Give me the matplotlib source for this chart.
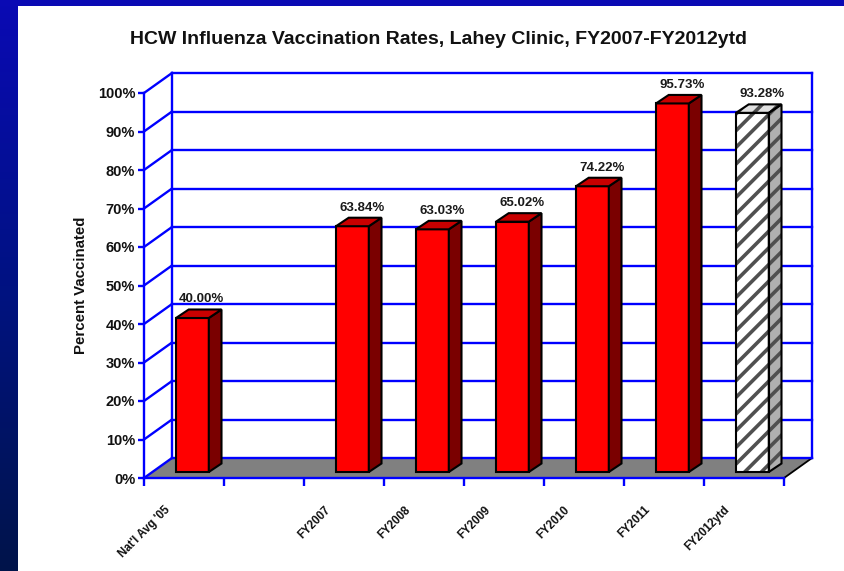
import matplotlib
matplotlib.use("Agg")
import matplotlib.pyplot as plt
import numpy as np
from matplotlib.patches import Polygon, Rectangle
from matplotlib.transforms import Affine2D, IdentityTransform
from matplotlib.colors import LinearSegmentedColormap

plt.rcParams['font.family'] = ['Liberation Sans', 'DejaVu Sans']
plt.rcParams['hatch.linewidth'] = 2.6

# ---- data ----
categories = ["Nat'l Avg '05", "", "FY2007", "FY2008", "FY2009", "FY2010", "FY2011", "FY2012ytd"]
values = [40.00, None, 63.84, 63.03, 65.02, 74.22, 95.73, 93.28]
labels = ["40.00%", "", "63.84%", "63.03%", "65.02%", "74.22%", "95.73%", "93.28%"]
hatched = [False, False, False, False, False, False, False, True]
yticks = list(range(0, 101, 10))
title = "HCW Influenza Vaccination Rates, Lahey Clinic, FY2007-FY2012ytd"
ylabel = "Percent Vaccinated"

W, H = 844, 571
fig = plt.figure(figsize=(W / 100, H / 100), dpi=100)
fig.patch.set_facecolor("white")

# slide frame (blue)
bg = fig.add_axes([0, 0, 18 / W, 1])
grad = np.linspace(0, 1, 256).reshape(-1, 1)
cm = LinearSegmentedColormap.from_list("f", ["#0A0AB4", "#001282", "#00144A"])
bg.imshow(grad, aspect="auto", cmap=cm, extent=[0, 1, 0, 1], origin="upper")
bg.axis("off")
fig.patches.append(Rectangle((0, 1 - 6 / H), 1, 6 / H, transform=fig.transFigure,
                             facecolor="#0A0AB4", edgecolor="none", zorder=5))

# plot axes = front plane
x0, x1, y0, y1 = 144, 784, 478, 93
ax = fig.add_axes([x0 / W, (H - y0) / H, (x1 - x0) / W, (y0 - y1) / H])
n = len(categories)
ax.set_xlim(0, n)
ax.set_ylim(0, 100)
ax.patch.set_alpha(0)

def off(dx, dy):
    return ax.transData + Affine2D().translate(dx, -dy)

BX, BY = 28, -20          # back wall offset (px)
F1X, F1Y = 8.4, -6        # bar front plane
DX, DY = 12.7, -8.5       # bar depth
blue = "#0000FF"
lw = 1.7
Tb = off(BX, BY)
ID = IdentityTransform()

def addpoly(p, **kw):
    ax.add_patch(Polygon(p, closed=True, transform=ID, clip_on=False, **kw))

def addline(a, b, **kw):
    ax.add_line(plt.Line2D([a[0], b[0]], [a[1], b[1]], transform=ID, clip_on=False, **kw))

# floor
fpts = [ax.transData.transform((0, 0)), ax.transData.transform((n, 0)),
        Tb.transform((n, 0)), Tb.transform((0, 0))]
addpoly(fpts, facecolor="#808080", edgecolor="none", zorder=1)
addline(ax.transData.transform((n, 0)), Tb.transform((n, 0)), color="black", lw=1.3, zorder=2)

# gridlines: diagonal on left wall + horizontal on back wall
for t in yticks:
    addline(ax.transData.transform((0, t)), Tb.transform((0, t)), color=blue, lw=lw, zorder=3)
    ax.plot([0, n], [t, t], color=blue, lw=lw, transform=Tb, clip_on=False, zorder=3)
ax.plot([0, 0], [0, 100], color=blue, lw=lw, transform=Tb, clip_on=False, zorder=3)
ax.plot([n, n], [0, 100], color=blue, lw=lw, transform=Tb, clip_on=False, zorder=3)

# bars
bw = 0.41
Tf = off(F1X, F1Y)
Tk = off(F1X + DX, F1Y + DY)
def pts(T, xy):
    return [T.transform(p) for p in xy]

for i, v in enumerate(values):
    if v is None:
        continue
    xl = i + 0.5 - bw / 2
    xr = i + 0.5 + bw / 2
    side = pts(Tf, [(xr, 0), (xr, v)]) + pts(Tk, [(xr, v), (xr, 0)])
    top = pts(Tf, [(xl, v), (xr, v)]) + pts(Tk, [(xr, v), (xl, v)])
    if hatched[i]:
        ax.bar(i + 0.5, v, bw, transform=Tf, facecolor="white", edgecolor="#505050",
               hatch="//", linewidth=0, clip_on=False, zorder=6)
        ax.bar(i + 0.5, v, bw, transform=Tf, facecolor="none", edgecolor="black",
               linewidth=1.5, clip_on=False, zorder=7)
        for poly, fc in ((side, "#B0B0B0"), (top, "#E0E0E0")):
            addpoly(poly, facecolor=fc, edgecolor="#505050", hatch="//", linewidth=0, zorder=6)
            addpoly(poly, facecolor="none", edgecolor="black", linewidth=1.5, zorder=7)
    else:
        ax.bar(i + 0.5, v, bw, transform=Tf, facecolor="#FF0000", edgecolor="black",
               linewidth=1.5, clip_on=False, zorder=6)
        addpoly(side, facecolor="#7A0000", edgecolor="black", linewidth=1.5, zorder=6)
        addpoly(top, facecolor="#C80000", edgecolor="black", linewidth=1.5, zorder=6)
    ax.text(i + 0.5, v, labels[i], transform=off(F1X + DX / 2 + 3, F1Y + DY - 4),
            ha="center", va="bottom", fontsize=9.5, fontweight="bold", color="#1a1a1a",
            clip_on=False, zorder=8)

# axes spines / ticks
for s in ("top", "right"):
    ax.spines[s].set_visible(False)
for s in ("left", "bottom"):
    ax.spines[s].set_color(blue)
    ax.spines[s].set_linewidth(lw)
    ax.spines[s].set_zorder(4)
ax.set_yticks(yticks)
ax.set_yticklabels([f"{t}%" for t in yticks], fontsize=10.5, fontweight="bold", color="#111111")
ax.tick_params(axis="y", direction="out", length=4.3, width=lw, color=blue, pad=2)
ax.set_xticks(range(n + 1))
ax.set_xticklabels([])
ax.tick_params(axis="x", which="major", direction="out", length=5.8, width=lw, color=blue)
ax.set_xticks([i + 0.5 for i in range(n)], minor=True)
ax.set_xticklabels(categories, minor=True, rotation=45, ha="right",
                   rotation_mode="anchor", fontsize=8.3, fontweight="bold", color="#111111")
ax.tick_params(axis="x", which="minor", length=0, pad=18.5)
for lab in ax.get_xticklabels(minor=True):
    lab.set_transform(lab.get_transform() + Affine2D().translate(-20, 0))

ax.set_ylabel(ylabel, fontsize=10.8, fontweight="bold", labelpad=7, color="#111111")

fig.text(438 / W, 1 - 40 / H, title, ha="center", va="center", fontsize=14,
         fontweight="bold", color="#111111")

fig.savefig("out.png", dpi=100, facecolor=fig.get_facecolor())
